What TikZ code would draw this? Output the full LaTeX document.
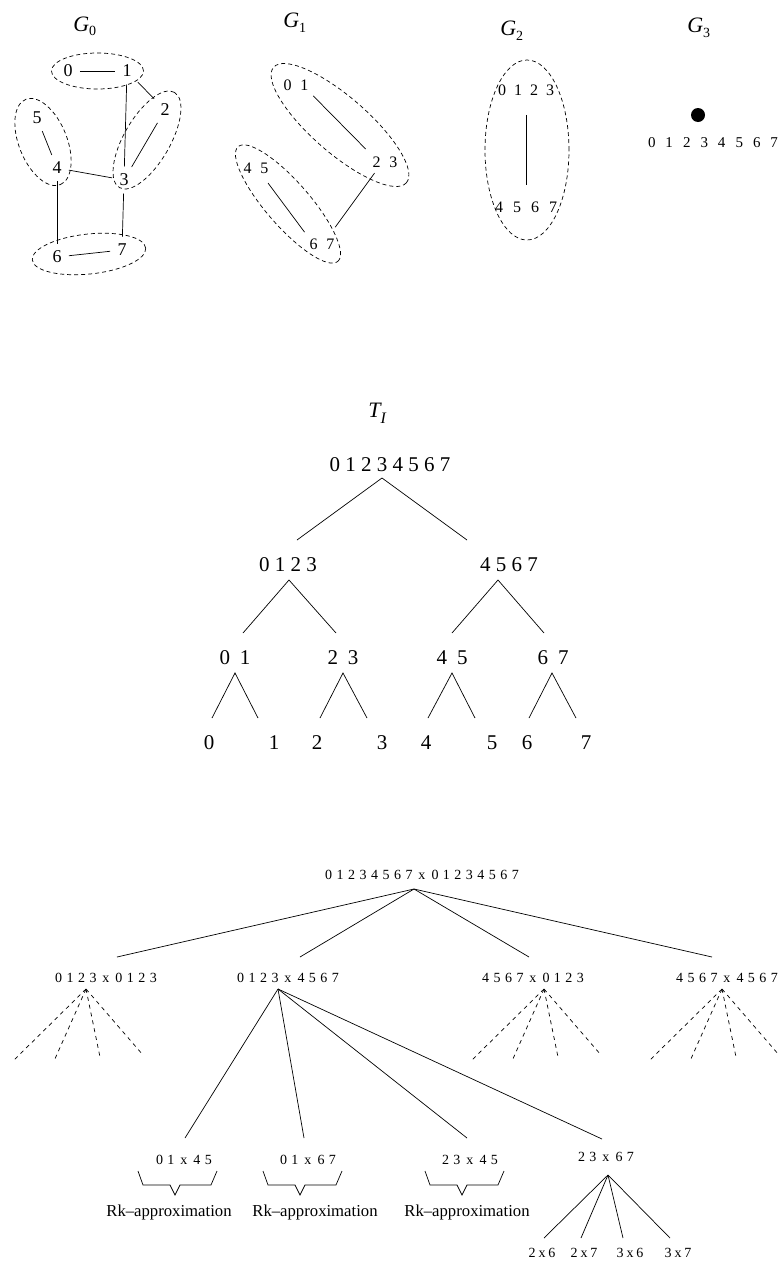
\documentclass[tikz,border=0pt]{standalone}
\usepackage{fontspec}
\setmainfont{Liberation Serif}
\newfontfamily\lsp[LetterSpace=32]{Liberation Serif}
\usetikzlibrary{calc}
\newcommand\subs[2]{\raisebox{-#1pt}{\fontsize{14}{14}\selectfont\upshape #2}}
\newcommand\hs[1]{\hspace{#1pt}}
\newcommand\xx[1]{\kern#1pt x\kern#1pt }
\newcommand\fork[4]{\coordinate (#1-a) at #2; \coordinate (#1-l) at #3; \coordinate (#1-r) at #4; \draw (#1-l) -- (#1-a) -- (#1-r);}
\newcommand\brk[1]{\draw (#1,1171) -- ++(5,14) -- ++(27,0) -- ++(5,10) -- ++(5,-10) -- ++(31,0) -- ++(6,-14);}
\begin{document}
\begin{tikzpicture}[x=1pt,y=-1pt, line width=0.7pt,
  gnum/.style={font=\fontsize{18}{18}\selectfont, inner sep=4pt},
  cnum/.style={font=\fontsize{16}{16}\selectfont, inner sep=3pt},
  tnum/.style={font=\fontsize{21}{21}\selectfont, inner sep=1pt},
  pnode/.style={font=\lsp\fontsize{14}{14}\selectfont, inner sep=1pt},
  rk/.style={font=\fontsize{16.7}{17}\selectfont, anchor=base, inner sep=0pt},
  glab/.style={anchor=base west, inner sep=0pt, font=\fontsize{22}{22}\selectfont\itshape},
  grp/.style={dash pattern=on 4pt off 3pt},
  fan/.style={dash pattern=on 4pt off 4pt},
  edge/.style={shorten >=3pt, shorten <=3pt}
]
\useasboundingbox (0,0) rectangle (784,1264);

% ---------- G labels ----------
\node[glab] (G0) at (73,31) {G\subs{4}{0}};
\node[glab] (G1) at (283,27) {G\subs{5}{1}};
\node[glab] (G2) at (500,35) {G\subs{5}{2}};
\node[glab] (G3) at (687,32) {G\subs{5}{3}};

% ---------- G0 ----------
\node[gnum] (a0) at (68,71) {0};
\node[gnum] (a1) at (127,71) {1};
\node[gnum] (a2) at (165,110) {2};
\node[gnum] (a5) at (37,118) {5};
\node[gnum] (a4) at (57,168) {4};
\node[gnum] (a3) at (124,180) {3};
\node[gnum] (a6) at (57,257) {6};
\node[gnum] (a7) at (122,250) {7};
\draw[edge] (a0) -- (a1);
\draw[edge] (a1) -- (a2);
\draw[edge] (a1) -- (a3);
\draw[edge] (a2) -- (a3);
\draw[edge] (a5) -- (a4);
\draw[edge] (a4) -- (a3);
\draw[edge] (a4) -- (a6);
\draw[edge] (a3) -- (a7);
\draw[edge] (a6) -- (a7);
\draw[grp] (97.5,71) ellipse [x radius=46pt, y radius=18pt];
\draw[grp, rotate around={-68:(43,142)}] (43,142) ellipse [x radius=46pt, y radius=24pt];
\draw[grp, rotate around={60:(147,140)}] (147,140) ellipse [x radius=55pt, y radius=23pt];
\draw[grp, rotate around={6:(89,254)}] (89,254) ellipse [x radius=57pt, y radius=20pt];

% ---------- G1 ----------
\node[cnum] (c01) at (296,85) {0\hs{9}1};
\node[cnum] (c23) at (385,162) {2\hs{9}3};
\node[cnum] (c45) at (256,168) {4\hs{9}5};
\node[cnum] (c67) at (322,244) {6\hs{9}7};
\draw[shorten <=3pt, shorten >=6pt] (c01.-30) -- (c23.150);
\draw[shorten <=8pt, shorten >=4pt] (c45.-50) -- (c67.150);
\draw[shorten <=3pt, shorten >=10pt] (c23.-135) -- (c67.50);
\draw[grp, rotate around={-41:(340,125)}] (340,125) ellipse [x radius=88pt, y radius=28pt];
\draw[grp, rotate around={-49:(288,204)}] (288,204) ellipse [x radius=76pt, y radius=22pt];

% ---------- G2 ----------
\node[cnum] (d0) at (526,90) {0\hs{8}1\hs{8}2\hs{8}3};
\node[cnum] (d1) at (526,207) {4\hs{10}5\hs{10}6\hs{10}7};
\draw[shorten <=16pt, shorten >=13pt] (d0) -- (d1);
\draw[grp] (527,150) ellipse [x radius=42pt, y radius=90pt];

% ---------- G3 ----------
\fill (698,115) circle [radius=7pt];
\node[font=\fontsize{15}{15}\selectfont, inner sep=1pt] (e0) at (713,143) {0\hs{10}1\hs{10}2\hs{10}3\hs{10}4\hs{10}5\hs{10}6\hs{10}7};

% ---------- T_I ----------
\node[glab] (TI) at (368,417) {T\raisebox{-6pt}{\fontsize{16}{16}\selectfont I}};
\node[tnum] (t0) at (390,465) {0 1 2 3 4 5 6 7};
\node[tnum] (t1) at (288,565) {0 1 2 3};
\node[tnum] (t2) at (509,565) {4 5 6 7};
\node[tnum] (t3) at (235,658) {0\hs{10}1};
\node[tnum] (t4) at (343,658) {2\hs{10}3};
\node[tnum] (t5) at (452,658) {4\hs{10}5};
\node[tnum] (t6) at (553,658) {6\hs{10}7};
\node[tnum] (l0) at (209,743) {0};
\node[tnum] (l1) at (274,743) {1};
\node[tnum] (l2) at (317,743) {2};
\node[tnum] (l3) at (382,743) {3};
\node[tnum] (l4) at (426,743) {4};
\node[tnum] (l5) at (492,743) {5};
\node[tnum] (l6) at (527,743) {6};
\node[tnum] (l7) at (586,743) {7};
\fork{f0}{(382,478)}{(297,540)}{(467,540)}
\fork{f1}{(289,580)}{(243,633)}{(336,633)}
\fork{f2}{(498,580)}{(452,633)}{(544,633)}
\fork{f3}{(235,673)}{(212,718)}{(258,718)}
\fork{f4}{(343,673)}{(320,718)}{(367,718)}
\fork{f5}{(452,673)}{(428,718)}{(475,718)}
\fork{f6}{(552,673)}{(529,718)}{(576,718)}

% ---------- product tree ----------
\node[pnode] (p0) at (422,875) {01234567\xx{6}01234567};
\node[pnode] (p1) at (106,978) {0123\xx{6}0123};
\node[pnode] (p2) at (288,978) {0123\xx{6}4567};
\node[pnode] (p3) at (533,978) {4567\xx{6}0123};
\node[pnode] (p4) at (727,978) {4567\xx{6}4567};
\coordinate (p0a) at (414,889);
\coordinate (p1t) at (117,957);
\coordinate (p2t) at (300,957);
\coordinate (p3t) at (529,957);
\coordinate (p4t) at (712,957);
\draw (p0a) -- (p1t);
\draw (p0a) -- (p2t);
\draw (p0a) -- (p3t);
\draw (p0a) -- (p4t);

\foreach \n/\ax in {1/86, 3/544, 4/722}{
  \coordinate (q\n) at (\ax,989);
  \foreach \dx/\dy in {-73/72, -32/72, 14/68, 57/66}{
    \draw[fan] (q\n) -- ++(\dx,\dy);
  }
}

\coordinate (p2a) at (278,989);
\node[pnode] (r1) at (184,1160) {01\xx{6}45};
\node[pnode] (r2) at (308,1160) {01\xx{6}67};
\node[pnode] (r3) at (470,1160) {23\xx{6}45};
\node[pnode] (r4) at (606,1157) {23\xx{6}67};
\coordinate (r1t) at (185,1138);
\coordinate (r2t) at (304,1138);
\coordinate (r3t) at (467,1138);
\coordinate (r4t) at (602,1139);
\draw (p2a) -- (r1t);
\draw (p2a) -- (r2t);
\draw (p2a) -- (r3t);
\draw (p2a) -- (r4t);

\brk{138}
\brk{263}
\brk{425}
\node[rk] (k1) at (169,1216) {Rk–approximation};
\node[rk] (k2) at (315,1216) {Rk–approximation};
\node[rk] (k3) at (467,1216) {Rk–approximation};

\coordinate (r4a) at (608,1175);
\node[pnode] (s1) at (542,1253) {2\xx{3}6};
\node[pnode] (s2) at (584,1253) {2\xx{3}7};
\node[pnode] (s3) at (630,1253) {3\xx{3}6};
\node[pnode] (s4) at (678,1253) {3\xx{3}7};
\coordinate (s1t) at (544,1238);
\coordinate (s2t) at (581,1238);
\coordinate (s3t) at (623,1238);
\coordinate (s4t) at (670,1238);
\draw (r4a) -- (s1t);
\draw (r4a) -- (s2t);
\draw (r4a) -- (s3t);
\draw (r4a) -- (s4t);
\end{tikzpicture}
\end{document}
